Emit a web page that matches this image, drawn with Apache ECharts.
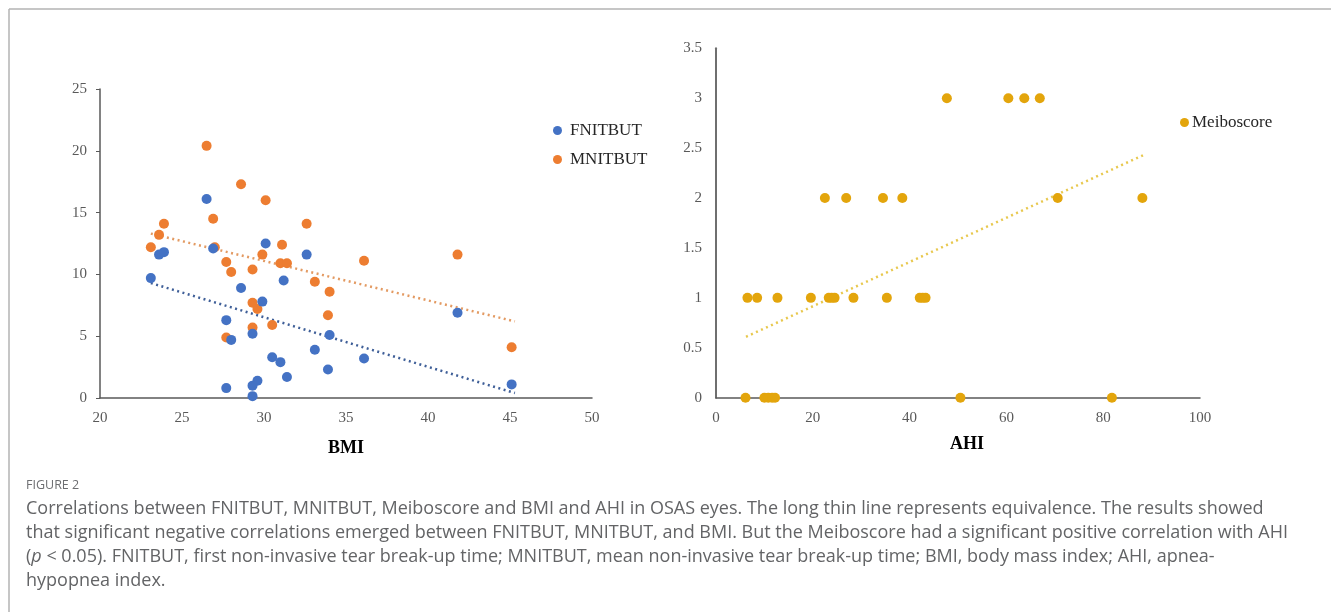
<!DOCTYPE html>
<html>
<head>
<meta charset="utf-8">
<script src="https://cdn.jsdelivr.net/npm/echarts@6/dist/echarts.min.js"></script>
<style>
html,body{margin:0;padding:0;background:#fff;}
#chart{width:1331px;height:612px;}
</style>
</head>
<body>
<div id="chart"></div>
<script>
// ---- Data ----
const fnitbut = [
  [26.5,16.1],[26.9,12.1],[30.1,12.5],[23.6,11.6],[23.9,11.8],[32.6,11.6],
  [23.1,9.7],[28.6,8.9],[31.2,9.5],[29.9,7.8],[27.7,6.3],[29.3,5.2],
  [28.0,4.7],[34.0,5.1],[30.5,3.3],[31.0,2.9],[33.1,3.9],[33.9,2.3],
  [31.4,1.7],[29.6,1.4],[29.3,1.0],[27.7,0.8],[29.3,0.15],[36.1,3.2],
  [41.8,6.9],[45.1,1.1]
];
const mnitbut = [
  [26.5,20.4],[28.6,17.3],[30.1,16.0],[26.9,14.5],[23.9,14.1],[32.6,14.1],
  [23.6,13.2],[23.1,12.2],[31.1,12.4],[29.9,11.6],[31.0,10.9],[31.4,10.9],
  [27.7,11.0],[36.1,11.1],[41.8,11.6],[28.0,10.2],[29.3,10.4],[33.1,9.4],
  [34.0,8.6],[29.3,7.7],[29.6,7.2],[33.9,6.7],[30.5,5.9],[29.3,5.7],
  [27.7,4.9],[45.1,4.1],[27.0,12.2]
];
const fnitbutTrend = [[23.1,9.3],[45.3,0.4]];
const mnitbutTrend = [[23.1,13.3],[45.3,6.2]];

const meiboscore = [
  [22.5,2],[26.9,2],[34.5,2],[38.5,2],[70.6,2],[88.1,2],
  [47.7,3],[60.4,3],[63.7,3],[66.9,3],
  [6.5,1],[8.5,1],[12.7,1],[19.6,1],[23.3,1],[23.9,1],[24.5,1],[28.4,1],[35.3,1],[42.1,1],[42.7,1],[43.3,1],
  [6.1,0],[10.0,0],[10.8,0],[11.6,0],[12.2,0],[50.5,0],[81.8,0]
];
const meiboTrend = [[6.2,0.61],[88.3,2.43]];

const bmiTicks = {min:20, max:50, interval:5};
const fnTicksY = {min:0, max:25, interval:5};
const ahiTicks = {min:0, max:100, interval:20};
const meiboTicksY = {min:0, max:3.5, interval:0.5};

const captionLines = [
  "Correlations between FNITBUT, MNITBUT, Meiboscore and BMI and AHI in OSAS eyes. The long thin line represents equivalence. The results showed",
  "that significant negative correlations emerged between FNITBUT, MNITBUT, and BMI. But the Meiboscore had a significant positive correlation with AHI",
  "({i|p} < 0.05). FNITBUT, first non-invasive tear break-up time; MNITBUT, mean non-invasive tear break-up time; BMI, body mass index; AHI, apnea-",
  "hypopnea index."
];

// ---- Styles ----
const BLUE = '#4472C4', ORANGE = '#ED7D31', GOLD = '#E3A50C', GOLD_LINE = '#E8C84E';
const SERIF = '"Liberation Serif", "DejaVu Serif", serif';
const tickLabel = {color:'#595959', fontFamily:SERIF, fontSize:15};

const chart = echarts.init(document.getElementById('chart'), null, {renderer:'canvas'});

function xAxisCfg(grid, ticks, name, gap, pad){
  return {
    type:'value', gridIndex:grid, min:ticks.min, max:ticks.max, interval:ticks.interval,
    name:name, nameLocation:'middle', nameGap:gap,
    nameTextStyle:{color:'#000', fontFamily:SERIF, fontWeight:'bold', fontSize:18, padding:pad},
    axisLine:{show:true, lineStyle:{color:'#595959', width:1.5}},
    axisTick:{show:false},
    axisLabel:Object.assign({margin:13}, tickLabel),
    splitLine:{show:false}
  };
}

const option = {
  animation:false,
  backgroundColor:'#fff',
  grid:[
    {left:100, top:89, width:492, height:309},
    {left:716, top:48.3, width:484, height:349.4}
  ],
  xAxis:[
    xAxisCfg(0, bmiTicks, 'BMI', 41, [0,0,0,0]),
    xAxisCfg(1, ahiTicks, 'AHI', 38, [0,0,0,18])
  ],
  yAxis:[
    {type:'value', gridIndex:0, min:fnTicksY.min, max:fnTicksY.max, interval:fnTicksY.interval,
     axisLine:{show:true, lineStyle:{color:'#595959', width:1.5}},
     axisTick:{show:true, length:4, lineStyle:{color:'#595959'}},
     axisLabel:Object.assign({margin:13}, tickLabel),
     splitLine:{show:false}},
    {type:'value', gridIndex:1, min:meiboTicksY.min, max:meiboTicksY.max, interval:meiboTicksY.interval,
     axisLine:{show:true, lineStyle:{color:'#6f6f6f', width:2}},
     axisTick:{show:false},
     axisLabel:Object.assign({margin:14}, tickLabel),
     splitLine:{show:false}}
  ],
  legend:[
    {orient:'vertical', left:548, top:117, itemGap:12, icon:'circle', itemWidth:9, itemHeight:9,
     data:['FNITBUT','MNITBUT'],
     textStyle:{fontFamily:SERIF, fontSize:17, color:'#262626', padding:[0,0,0,3]}},
    {orient:'vertical', left:1175, top:109, icon:'circle', itemWidth:9, itemHeight:9, itemGap:5,
     data:['Meiboscore'],
     textStyle:{fontFamily:SERIF, fontSize:17, color:'#262626', padding:[0,0,0,-2]}}
  ],
  series:[
    {name:'FNITBUT trend', type:'line', xAxisIndex:0, yAxisIndex:0, data:fnitbutTrend, symbol:'none',
     lineStyle:{color:'#3F5F98', width:2.5, type:[2,3.5]}, silent:true, z:1},
    {name:'MNITBUT trend', type:'line', xAxisIndex:0, yAxisIndex:0, data:mnitbutTrend, symbol:'none',
     lineStyle:{color:'#E39A62', width:2.5, type:[2,3.5]}, silent:true, z:1},
    {name:'FNITBUT', type:'scatter', xAxisIndex:0, yAxisIndex:0, data:fnitbut, symbolSize:10,
     itemStyle:{color:BLUE, opacity:1}, z:3},
    {name:'MNITBUT', type:'scatter', xAxisIndex:0, yAxisIndex:0, data:mnitbut, symbolSize:10,
     itemStyle:{color:ORANGE, opacity:1}, z:2},
    {name:'Meibo trend', type:'line', xAxisIndex:1, yAxisIndex:1, data:meiboTrend, symbol:'none',
     lineStyle:{color:GOLD_LINE, width:2.5, type:[2,3.5]}, silent:true, z:1},
    {name:'Meiboscore', type:'scatter', xAxisIndex:1, yAxisIndex:1, data:meiboscore, symbolSize:10,
     itemStyle:{color:GOLD, opacity:1}, z:2}
  ],
  graphic:[
    {type:'line', shape:{x1:9, y1:9, x2:1331, y2:9}, style:{stroke:'#b3b3b3', lineWidth:1.5}},
    {type:'line', shape:{x1:9, y1:9, x2:9, y2:612}, style:{stroke:'#b3b3b3', lineWidth:1.5}},
    {type:'text', left:26, top:479, style:{text:'FIGURE 2', fill:'#6d6e71', font:'12.5px "Open Sans", sans-serif'}},
    {type:'text', left:26, top:497, style:{
      text:captionLines.join('\n'),
      fill:'#636466', font:'18px "Open Sans", sans-serif', lineHeight:24,
      rich:{i:{fontStyle:'italic', fontFamily:'"Open Sans", sans-serif', fontSize:18, fill:'#636466'}}
    }}
  ]
};
chart.setOption(option);
</script>
</body>
</html>
